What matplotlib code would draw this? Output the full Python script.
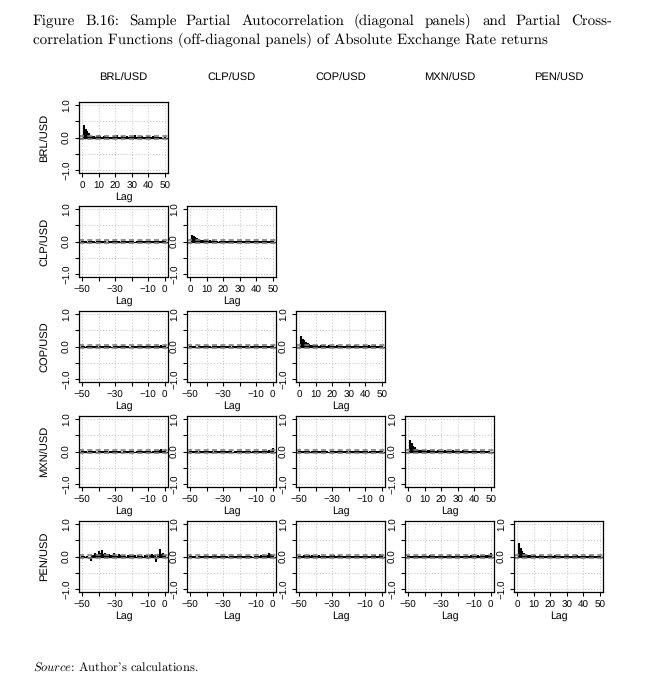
import numpy as np
import matplotlib
matplotlib.use('Agg')
import matplotlib.pyplot as plt

# 货币名称
names = ['BRL/USD', 'CLP/USD', 'COP/USD', 'MXN/USD', 'PEN/USD']

# 对角线: 偏自相关 lag 1..50
lags_diag = np.arange(1, 51)
pacf_brl = [0.37, 0.25, 0.20, 0.13, 0.05, 0.04, 0.06, 0.03, 0.04, 0.08,
            0.04, 0.03, 0.05, 0.04, 0.02, 0.03, 0.02, 0.03, 0.04, 0.02,
            0.08, 0.03, 0.02, 0.04, 0.02, 0.03, 0.05, 0.02, 0.03, 0.04,
            0.02, 0.07, 0.03, 0.02, 0.03, 0.04, 0.02, 0.03, 0.02, 0.04,
            0.03, 0.02, 0.04, 0.03, 0.02, 0.03, 0.02, 0.01, -0.02, 0.02]
pacf_clp = [0.19, 0.18, 0.13, 0.12, 0.07, 0.06, 0.05, 0.04, 0.05, 0.04,
            0.03, 0.05, 0.03, 0.04, 0.03, 0.02, -0.03, 0.03, 0.02, 0.03,
            0.02, 0.03, 0.01, 0.02, 0.03, 0.02, 0.01, 0.02, 0.03, 0.02,
            0.01, 0.02, 0.02, 0.03, 0.01, 0.02, 0.02, 0.01, 0.02, 0.03,
            0.02, 0.01, 0.02, 0.02, 0.03, 0.01, 0.02, 0.02, 0.01, 0.02]
pacf_cop = [0.31, 0.24, 0.19, 0.14, 0.11, 0.08, 0.06, 0.05, 0.06, 0.04,
            0.05, 0.03, 0.04, 0.03, 0.05, 0.02, 0.03, 0.04, 0.02, 0.03,
            0.02, 0.03, 0.04, 0.02, 0.03, 0.02, 0.03, 0.02, 0.04, 0.02,
            0.03, 0.02, 0.03, 0.04, 0.02, 0.03, 0.02, 0.03, 0.04, 0.02,
            0.03, 0.05, 0.02, 0.03, 0.02, 0.06, 0.03, 0.02, 0.03, 0.02]
pacf_mxn = [0.34, 0.25, 0.18, 0.13, 0.09, 0.05, 0.06, 0.04, 0.05, 0.04,
            0.03, 0.05, 0.04, 0.03, 0.06, 0.03, 0.02, 0.04, 0.03, 0.02,
            0.03, 0.04, 0.02, 0.03, 0.02, 0.03, 0.05, 0.02, 0.03, 0.02,
            0.03, 0.02, 0.04, 0.02, 0.03, 0.02, 0.03, 0.02, 0.03, 0.02,
            0.02, 0.03, 0.02, 0.03, 0.02, 0.02, 0.03, 0.02, 0.01, -0.02]
pacf_pen = [0.42, 0.27, 0.17, 0.10, 0.07, 0.05, 0.06, 0.04, 0.03, 0.05,
            0.04, 0.03, 0.02, 0.04, 0.03, 0.02, 0.03, 0.02, 0.03, 0.02,
            0.03, 0.02, 0.04, 0.02, 0.03, 0.02, 0.03, 0.02, 0.03, 0.04,
            0.02, 0.03, 0.02, 0.03, 0.02, 0.04, 0.02, 0.03, 0.02, 0.03,
            0.02, 0.03, 0.02, 0.04, 0.02, 0.03, 0.02, 0.03, 0.02, 0.03]
diag_vals = [pacf_brl, pacf_clp, pacf_cop, pacf_mxn, pacf_pen]

# 非对角线: 偏互相关 lag -50..0
lags_off = np.arange(-50, 1)
ccf_clp_brl = [0.02, 0.01, 0.02, -0.01, 0.02, 0.01, 0.02, 0.01, -0.02, 0.02,
               0.01, 0.02, 0.01, 0.02, 0.01, -0.01, 0.02, 0.01, 0.02, 0.01,
               0.02, 0.01, 0.02, -0.01, 0.02, 0.01, 0.02, 0.01, 0.02, 0.01,
               0.02, 0.01, -0.02, 0.02, 0.01, 0.02, 0.01, 0.02, 0.01, 0.02,
               0.01, 0.02, 0.01, 0.02, 0.03, 0.02, 0.01, 0.03, 0.02, 0.04, 0.02]
ccf_cop_brl = [0.02, 0.01, -0.01, 0.02, 0.01, 0.02, 0.01, 0.02, 0.01, 0.02,
               -0.02, 0.01, 0.02, 0.01, 0.02, 0.01, 0.02, 0.01, -0.01, 0.02,
               0.01, 0.02, 0.01, 0.02, 0.01, 0.02, 0.01, 0.02, 0.01, -0.02,
               0.02, 0.01, 0.02, 0.01, 0.02, 0.01, 0.02, 0.01, 0.02, 0.01,
               0.02, 0.01, 0.03, 0.02, 0.01, 0.02, 0.03, 0.02, 0.04, 0.03, 0.05]
ccf_cop_clp = [0.01, 0.02, 0.01, 0.02, -0.01, 0.02, 0.01, 0.02, 0.01, 0.02,
               0.01, 0.02, 0.01, -0.02, 0.02, 0.01, 0.02, 0.01, 0.02, 0.01,
               0.02, 0.01, 0.02, 0.01, 0.02, -0.01, 0.02, 0.01, 0.02, 0.01,
               0.02, 0.01, 0.02, 0.01, 0.02, 0.01, -0.02, 0.02, 0.01, 0.02,
               0.01, 0.02, 0.01, 0.02, 0.01, 0.02, 0.03, 0.02, 0.01, 0.03, 0.04]
ccf_mxn_brl = [0.02, 0.01, 0.02, -0.02, 0.02, 0.03, 0.01, 0.02, 0.01, -0.01,
               0.02, 0.03, 0.01, 0.02, 0.01, 0.02, -0.02, 0.01, 0.02, 0.03,
               0.01, 0.02, 0.01, 0.02, -0.01, 0.02, 0.03, 0.01, 0.02, 0.01,
               0.02, 0.01, -0.02, 0.02, 0.01, 0.03, 0.02, 0.01, 0.02, 0.01,
               0.03, 0.02, -0.03, 0.02, 0.04, 0.02, 0.03, 0.05, 0.08, 0.03, 0.06]
ccf_mxn_clp = [0.01, 0.02, 0.01, 0.02, 0.01, -0.01, 0.02, 0.01, 0.02, 0.01,
               0.02, 0.01, 0.02, 0.01, -0.02, 0.02, 0.01, 0.02, 0.01, 0.02,
               0.01, 0.02, 0.01, 0.02, 0.01, 0.02, -0.01, 0.02, 0.01, 0.02,
               0.01, 0.02, 0.01, 0.02, 0.01, 0.02, 0.01, -0.02, 0.02, 0.01,
               0.02, 0.01, 0.02, 0.03, 0.01, 0.02, 0.03, 0.02, 0.04, 0.03, 0.10]
ccf_mxn_cop = [0.01, 0.02, 0.01, 0.01, 0.02, 0.01, 0.02, -0.01, 0.01, 0.02,
               0.01, 0.02, 0.01, 0.02, 0.01, 0.02, 0.01, 0.01, -0.02, 0.02,
               0.01, 0.02, 0.01, 0.02, 0.01, 0.02, 0.01, 0.02, 0.01, 0.01,
               -0.01, 0.02, 0.01, 0.02, 0.01, 0.02, 0.01, 0.02, 0.01, 0.02,
               0.01, 0.02, -0.01, 0.02, 0.01, 0.02, 0.01, 0.02, 0.01, 0.02, 0.03]
ccf_pen_brl = [0.03, 0.02, -0.03, 0.02, -0.08, -0.14, 0.04, 0.06, 0.10, 0.08,
               0.18, 0.12, 0.20, 0.08, 0.10, 0.07, 0.09, 0.05, 0.06, 0.10,
               0.04, 0.03, 0.08, 0.05, 0.02, 0.06, 0.03, -0.02, 0.05, 0.04,
               0.03, 0.05, 0.04, -0.03, 0.04, 0.02, 0.03, -0.05, 0.04, 0.05,
               -0.08, 0.06, 0.07, 0.05, 0.04, -0.18, 0.07, 0.22, 0.08, 0.12, 0.05]
ccf_pen_clp = [0.02, 0.01, 0.02, 0.01, -0.01, 0.02, 0.03, 0.01, 0.02, 0.01,
               0.02, 0.01, 0.03, 0.02, 0.01, 0.04, 0.02, 0.01, 0.02, 0.03,
               0.01, 0.02, 0.01, -0.01, 0.02, 0.01, 0.02, 0.03, 0.01, 0.02,
               0.01, 0.02, 0.01, 0.03, 0.02, 0.01, 0.02, 0.01, -0.02, 0.02,
               0.03, 0.02, 0.01, 0.04, 0.02, 0.05, 0.03, 0.06, 0.12, 0.08, 0.04]
ccf_pen_cop = [0.02, 0.03, 0.01, 0.04, 0.02, 0.03, 0.05, 0.02, 0.04, 0.01,
               0.03, 0.02, 0.04, 0.02, 0.01, 0.03, 0.02, 0.01, 0.02, 0.04,
               0.02, 0.05, 0.03, 0.02, 0.04, 0.02, 0.03, 0.01, 0.02, 0.03,
               0.01, 0.02, 0.03, 0.02, 0.01, 0.02, 0.03, 0.02, 0.01, 0.02,
               0.03, 0.02, 0.01, 0.02, 0.03, 0.02, 0.04, 0.03, 0.02, 0.08, 0.04]
ccf_pen_mxn = [0.02, 0.01, 0.02, 0.03, 0.01, 0.02, 0.01, 0.03, 0.02, 0.01,
               0.02, 0.03, 0.02, 0.04, 0.02, 0.01, 0.03, 0.02, 0.01, 0.02,
               0.03, 0.02, 0.01, 0.02, 0.03, 0.04, 0.02, 0.01, 0.03, 0.02,
               0.01, 0.02, 0.03, 0.02, 0.01, 0.02, 0.03, 0.02, 0.04, 0.02,
               0.03, 0.02, 0.04, 0.03, 0.02, 0.05, 0.03, 0.04, 0.06, 0.05, 0.10]
off_vals = {(1, 0): ccf_clp_brl,
            (2, 0): ccf_cop_brl, (2, 1): ccf_cop_clp,
            (3, 0): ccf_mxn_brl, (3, 1): ccf_mxn_clp, (3, 2): ccf_mxn_cop,
            (4, 0): ccf_pen_brl, (4, 1): ccf_pen_clp, (4, 2): ccf_pen_cop,
            (4, 3): ccf_pen_mxn}
conf = 0.035  # 置信带

W, H = 647, 692
plt.rcParams['mathtext.fontset'] = 'cm'
plt.rcParams['text.hinting'] = 'no_hinting'
fig = plt.figure(figsize=(W / 100, H / 100), dpi=100)
sans = ['Liberation Sans', 'DejaVu Sans']
serif = ['cmr10', 'DejaVu Serif']
col_left = [79, 187, 296, 405, 514]
row_top = [102, 206, 311, 416, 521]
bw, bh = 89, 71


def panel(r, c):
    ax = fig.add_axes([col_left[c] / W, 1 - (row_top[r] + bh) / H, bw / W, bh / H])
    if r == c:
        x, y = lags_diag, diag_vals[r]
        ax.set_xlim(-2, 52)
        ax.set_xticks([0, 10, 20, 30, 40, 50])
        ax.set_xticklabels(['0', '10', '20', '30', '40', '50'])
    else:
        x, y = lags_off, off_vals[(r, c)]
        ax.set_xlim(-52, 2)
        ax.set_xticks([-50, -40, -30, -20, -10, 0])
        ax.set_xticklabels(['\u221250', '', '\u221230', '', '\u221210', '0'])
    ax.set_ylim(-1.08, 1.08)
    ax.set_yticks([-1, -0.5, 0, 0.5, 1])
    ax.set_yticklabels(['\u22121.0', '', '0.0', '', '1.0'], rotation=90, va='center')
    ax.grid(True, color='#cccccc', linestyle=':', linewidth=0.8)
    ax.set_axisbelow(True)
    ax.vlines(x, 0, y, color='black', linewidth=1.5)
    ax.axhline(0, color='black', linewidth=0.9)
    ax.axhline(conf, color='#808080', linestyle='--', linewidth=1.2, dashes=(3, 2))
    ax.axhline(-conf, color='#808080', linestyle='--', linewidth=1.2, dashes=(3, 2))
    ax.tick_params(direction='out', length=3, width=0.8, labelsize=7.1)
    ax.tick_params(axis='x', pad=3)
    ax.tick_params(axis='y', pad=2)
    for lab in ax.get_xticklabels() + ax.get_yticklabels():
        lab.set_family(sans)
    for s in ax.spines.values():
        s.set_linewidth(0.9)
    ax.set_xlabel('Lag', fontsize=7.6, family=sans, labelpad=1)
    if c == 0:
        fig.text(45 / W, 1 - (row_top[r] + bh / 2) / H, names[r], ha='center',
                 va='center', rotation=90, fontsize=8, family=sans)


for r in range(5):
    for c in range(r + 1):
        panel(r, c)
for c in range(5):
    fig.text((col_left[c] + bw / 2) / W, 1 - 78 / H, names[c], ha='center',
             va='center', fontsize=8, family=sans)

# 标题 (两端对齐的第一行)
fs = 10.8
line1 = 'Figure B.16:  Sample Partial Autocorrelation (diagonal panels) and Partial Cross-'
line2 = 'correlation Functions (off-diagonal panels) of Absolute Exchange Rate returns'
x0, x1 = 33, 612
renderer = fig.canvas.get_renderer()
words = line1.split()
tobjs = [fig.text(0, 1 - 25 / H, w, fontsize=fs, family=serif, va='baseline') for w in words]
widths = [t.get_window_extent(renderer).width for t in tobjs]
gap = (x1 - x0 - sum(widths)) / (len(words) - 1)
xpos = x0
for t, w in zip(tobjs, widths):
    t.set_x(round(xpos) / W)
    xpos += w + gap
fig.text(x0 / W, 1 - 44 / H, line2, fontsize=fs, family=serif, va='baseline')

fig.text(x0 / W, 1 - 672 / H, r"$\mathit{Source}$: Author's calculations.",
         fontsize=9, family=serif, va='baseline')

fig.savefig('out.png', dpi=100, facecolor='white')
